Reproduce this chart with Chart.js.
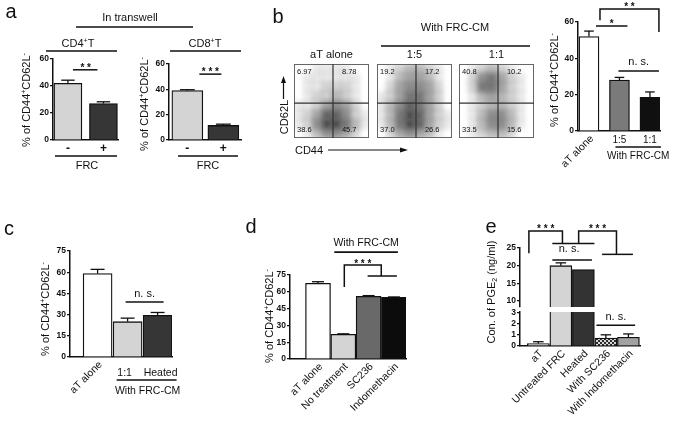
<!DOCTYPE html>
<html><head><meta charset="utf-8">
<script src="https://cdn.jsdelivr.net/npm/chart.js@4.4.1/dist/chart.umd.min.js"></script>
<style>
html,body{margin:0;padding:0;background:#fff;}
#wrap{position:relative;width:675px;height:422px;overflow:hidden;background:#fff;}
canvas{position:absolute;left:0;top:0;}
svg{position:absolute;left:0;top:0;pointer-events:none;}
</style></head><body>
<div id="wrap">
<canvas id="cA1" width="675" height="422"></canvas>
<canvas id="cA2" width="675" height="422"></canvas>
<canvas id="cF1" width="675" height="422"></canvas>
<canvas id="cF2" width="675" height="422"></canvas>
<canvas id="cF3" width="675" height="422"></canvas>
<canvas id="cB" width="675" height="422"></canvas>
<canvas id="cC" width="675" height="422"></canvas>
<canvas id="cD" width="675" height="422"></canvas>
<canvas id="cE1" width="675" height="422"></canvas>
<canvas id="cE2" width="675" height="422"></canvas>
<svg width="675" height="422" font-family="Liberation Sans, Arial, Helvetica, sans-serif" fill="#111">
  <g font-size="20" text-anchor="middle">
    <text x="11" y="18">a</text>
    <text x="278" y="23">b</text>
    <text x="9" y="235">c</text>
    <text x="251" y="233">d</text>
    <text x="491" y="233">e</text>
  </g>
  <g font-size="11" text-anchor="middle">
    <text x="130" y="21">In transwell</text>
    <text x="78" y="47">CD4<tspan font-size="7" dy="-4">+</tspan><tspan dy="4">T</tspan></text>
    <text x="205" y="47">CD8<tspan font-size="7" dy="-4">+</tspan><tspan dy="4">T</tspan></text>
    <text x="87" y="169">FRC</text>
    <text x="208" y="169">FRC</text>
    <text transform="translate(30,100) rotate(-90)">% of CD44<tspan font-size="7" dy="-4">+</tspan><tspan dy="4">CD62L</tspan><tspan font-size="7" dy="-4">-</tspan></text>
    <text transform="translate(148,104) rotate(-90)">% of CD44<tspan font-size="7" dy="-4">+</tspan><tspan dy="4">CD62L</tspan><tspan font-size="7" dy="-4">-</tspan></text>
    <text x="455" y="31">With FRC-CM</text>
    <text transform="translate(288,117) rotate(-90)">CD62L</text>
    <text x="309" y="154">CD44</text>
    <text transform="translate(558,80) rotate(-90)">% of CD44<tspan font-size="7" dy="-4">+</tspan><tspan dy="4">CD62L</tspan><tspan font-size="7" dy="-4">-</tspan></text>
    <text transform="translate(49,309) rotate(-90)">% of CD44<tspan font-size="7" dy="-4">+</tspan><tspan dy="4">CD62L</tspan><tspan font-size="7" dy="-4">-</tspan></text>
    <text transform="translate(273,316) rotate(-90)">% of CD44<tspan font-size="7" dy="-4">+</tspan><tspan dy="4">CD62L</tspan><tspan font-size="7" dy="-4">-</tspan></text>
    <text transform="translate(495,292) rotate(-90)">Con. of PGE<tspan font-size="7" dy="2">2</tspan><tspan dy="-2"> (ng/ml)</tspan></text>
  </g>
  <g stroke="#111" stroke-width="1.5" fill="none">
    <line x1="76" y1="27" x2="193" y2="27"/>
    <line x1="46" y1="51" x2="117" y2="51"/>
    <line x1="170" y1="51" x2="241" y2="51"/>
    <line x1="55" y1="156" x2="117" y2="156"/>
    <line x1="178" y1="156" x2="238" y2="156"/>
    <line x1="381" y1="46" x2="530" y2="46"/>
    <line x1="283.5" y1="99" x2="283.5" y2="82" stroke-width="1.2"/>
    <line x1="328" y1="150" x2="401" y2="150" stroke-width="1.2"/>
  </g>
  <polygon points="283.5,76 281,83 286,83" fill="#111"/>
  <polygon points="408,150 400,147.5 400,152.5" fill="#111"/>
</svg>
</div>
<script>
// ---------------- DATA ----------------
// Panel a
const aCats = ['-', '+'];
const aCD4 = [42, 27];
const aCD4Err = [2.3, 1.3];
const aCD8 = [39, 11.5];
const aCD8Err = [0.7, 1.0];
const aTicks = [0, 20, 40, 60];
// Panel b (flow plots)
const flowTitles = ['aT alone', '1:5', '1:1'];
// quadrant percentages: top-left, top-right, bottom-left, bottom-right
const flowQuadAlone = ['6.97', '8.78', '38.6', '45.7'];
const flowQuad15 = ['19.2', '17.2', '37.0', '26.6'];
const flowQuad11 = ['40.8', '10.2', '33.5', '15.6'];
const flowGate = [52, 47]; // CD44 gate, CD62L gate (% of axis)
// estimated dot density (rows top->bottom, columns CD44 low->high)
const densAlone = [
  [0,0,1,1,1,1,0,0],
  [0,1,1,1,1,1,1,0],
  [0,1,1,2,2,2,1,0],
  [0,1,2,2,3,2,1,0],
  [1,1,2,4,5,4,2,0],
  [1,2,4,7,7,5,2,1],
  [1,2,5,8,8,6,3,1],
  [0,1,3,5,5,4,2,0]
];
const dens15 = [
  [0,1,2,3,3,2,1,0],
  [0,1,3,4,4,3,1,0],
  [0,2,4,5,5,4,2,0],
  [1,2,4,6,6,4,2,0],
  [1,3,5,7,6,4,2,0],
  [1,3,6,8,7,4,2,1],
  [1,3,6,8,7,4,2,1],
  [0,2,4,5,4,3,1,0]
];
const dens11 = [
  [0,1,2,3,2,1,0,0],
  [0,2,5,6,4,2,1,0],
  [0,2,6,6,4,2,1,0],
  [0,1,3,4,3,2,1,0],
  [0,1,2,3,3,2,1,0],
  [0,1,3,5,5,3,1,0],
  [0,1,3,5,5,3,1,0],
  [0,1,2,3,3,2,0,0]
];
// Panel b bar chart
const bCats = ['aT alone', '1:5', '1:1'];
const bVals = [52, 28, 18.5];
const bErr = [3, 1.5, 3];
const bTicks = [0, 20, 40, 60];
// Panel c
const cCats = ['aT alone', '1:1', 'Heated'];
const cVals = [59, 25, 29.5];
const cErr = [3, 2.5, 2];
const cTicks = [0, 15, 30, 45, 60, 75];
// Panel d
const dCats = ['aT alone', 'No treatment', 'SC236', 'Indomethacin'];
const dVals = [67.5, 22, 56, 55];
const dErr = [1.5, 0.5, 0.6, 0.4];
const dTicks = [0, 15, 30, 45, 60, 75];
// Panel e
const eCats = ['aT', 'Untreated FRC', 'Heated', 'With SC236', 'With Indomethacin'];
const eVals = [0.22, 20, 18.9, 0.72, 0.8];
const eErr = [0.17, 0.8, 0, 0.3, 0.3];
const eTicksTop = [10, 15, 20, 25];
const eTicksBottom = [0, 1, 2, 3];

// ---------------- DRAWING ----------------
const W = 675, H = 422, YW = 22;
const FONT = "'Liberation Sans', Arial, Helvetica, sans-serif";
Chart.defaults.font.family = FONT;
Chart.defaults.color = '#111';

function txt(ctx, s, x, y, size, align, weight) {
  ctx.save();
  ctx.font = (weight || 'normal') + ' ' + size + 'px ' + FONT;
  ctx.fillStyle = '#111';
  ctx.textAlign = align || 'center';
  ctx.textBaseline = 'alphabetic';
  ctx.fillText(s, x, y);
  ctx.restore();
}
function rot(ctx, s, x, y, size) {
  ctx.save();
  ctx.translate(x, y);
  ctx.rotate(-Math.PI / 4);
  ctx.font = size + 'px ' + FONT;
  ctx.fillStyle = '#111';
  ctx.textAlign = 'right';
  ctx.textBaseline = 'middle';
  ctx.fillText(s, 0, 0);
  ctx.restore();
}
function path(ctx, pts, lw) {
  ctx.save();
  ctx.strokeStyle = '#111';
  ctx.lineWidth = lw || 1.5;
  ctx.beginPath();
  pts.forEach((p, i) => i ? ctx.lineTo(p[0], p[1]) : ctx.moveTo(p[0], p[1]));
  ctx.stroke();
  ctx.restore();
}

function barChart(id, o) {
  const data = o.vals.map((v, i) => ({ x: i, y: (o.yMin > 0 && v <= o.yMin) ? null : v }));
  return new Chart(document.getElementById(id), {
    type: 'bar',
    data: { datasets: [{ data, backgroundColor: o.colors, borderColor: '#111', borderWidth: 1.3, barThickness: o.barW, clip: 0 }] },
    options: {
      responsive: false, animation: false, events: [],
      layout: { padding: { left: o.area.l - YW, right: W - o.area.r, top: o.area.t, bottom: H - o.area.b } },
      plugins: { legend: { display: false }, tooltip: { enabled: false } },
      scales: {
        x: { type: 'linear', min: o.xMin, max: o.xMax, offset: false,
             ticks: { display: false }, grid: { display: false },
             border: { display: o.showX !== false, color: '#111', width: 1.5 },
             afterFit: s => { s.height = 0; } },
        y: { type: 'linear', min: o.yMin, max: o.yMax,
             afterBuildTicks: s => { s.ticks = o.ticks.map(v => ({ value: v })); },
             ticks: { color: '#111', font: { size: 8.5, weight: 'bold' }, padding: 1, autoSkip: false },
             grid: { drawOnChartArea: false, tickLength: 3, color: '#111', lineWidth: 1.2 },
             border: { color: '#111', width: 1.5 },
             afterFit: s => { s.width = YW; } }
      }
    },
    plugins: [{ id: 'ann' + id, afterDatasetsDraw(chart) {
      const ctx = chart.ctx, xs = chart.scales.x, ys = chart.scales.y;
      const X = i => xs.getPixelForValue(i), Y = v => ys.getPixelForValue(v);
      (o.err || []).forEach((e, i) => {
        const v = o.vals[i];
        if (!e || v <= o.yMin || v + e > o.yMax) return;
        const x = X(i), y0 = Y(v), y1 = Y(v + e), cw = o.barW * 0.24;
        path(ctx, [[x, y0], [x, y1]], 1.3);
        path(ctx, [[x - cw, y1], [x + cw, y1]], 1.3);
      });
      if (o.ann) o.ann(ctx, X, Y);
    } }]
  });
}

// Panel a, CD4
barChart('cA1', { vals: aCD4, err: aCD4Err, colors: ['#d4d4d4', '#363636'], ticks: aTicks,
  yMin: 0, yMax: 60, xMin: -0.42, xMax: 1.41, barW: 28, area: { l: 53, r: 118, t: 59, b: 140 },
  ann: (ctx, X, Y) => {
    const ly = Y(52);
    path(ctx, [[X(0) + 5, ly], [X(1) - 6, ly]]);
    txt(ctx, '* *', (X(0) + X(1)) / 2, ly + 1, 10, 'center', 'bold');
    aCats.forEach((s, i) => txt(ctx, s, X(i), Y(0) + 12, 12, 'center', 'bold'));
  } });
// Panel a, CD8
barChart('cA2', { vals: aCD8, err: aCD8Err, colors: ['#d4d4d4', '#363636'], ticks: aTicks,
  yMin: 0, yMax: 60, xMin: -0.51, xMax: 1.49, barW: 31, area: { l: 169, r: 241, t: 64, b: 140 },
  ann: (ctx, X, Y) => {
    const ly = Y(52);
    path(ctx, [[X(0) + 12, ly], [X(1) - 2, ly]]);
    txt(ctx, '* * *', (X(0) + 12 + X(1) - 2) / 2, ly + 1, 10, 'center', 'bold');
    aCats.forEach((s, i) => txt(ctx, s, X(i), Y(0) + 12, 12, 'center', 'bold'));
  } });

// Panel b bar chart
barChart('cB', { vals: bVals, err: bErr, colors: ['#ffffff', '#7a7a7a', '#101010'], ticks: bTicks,
  yMin: 0, yMax: 60, xMin: -0.36, xMax: 2.33, barW: 20, area: { l: 578, r: 660, t: 22, b: 131 },
  ann: (ctx, X, Y) => {
    const l1 = Y(57.8);
    path(ctx, [[X(0) + 7, l1], [X(1) + 8, l1]]);
    txt(ctx, '*', (X(0) + X(1)) / 2 + 7.5, l1 + 1, 10, 'center', 'bold');
    const bx0 = X(0) + 11, bx1 = X(2) + 9;
    path(ctx, [[bx0, Y(61)], [bx0, Y(67.2)], [bx1, Y(67.2)], [bx1, Y(54.5)]]);
    txt(ctx, '* *', (bx0 + bx1) / 2, Y(67.2) + 1, 10, 'center', 'bold');
    const ln = Y(33);
    path(ctx, [[X(1) - 1, ln], [X(2) + 9, ln]]);
    txt(ctx, 'n. s.', (X(1) + X(2)) / 2 + 4, ln - 6, 11);
    rot(ctx, bCats[0], X(0) + 3, Y(0) + 6, 10.5);
    txt(ctx, bCats[1], X(1), Y(0) + 12, 10);
    txt(ctx, bCats[2], X(2), Y(0) + 12, 10);
    path(ctx, [[X(1) - 4, Y(0) + 16], [X(2) + 11, Y(0) + 16]], 1.3);
    txt(ctx, 'With FRC-CM', (X(1) + X(2)) / 2 + 3.5, Y(0) + 28, 10);
  } });

// Panel c
barChart('cC', { vals: cVals, err: cErr, colors: ['#ffffff', '#d4d4d4', '#363636'], ticks: cTicks,
  yMin: 0, yMax: 75, xMin: -0.92, xMax: 2.48, barW: 29, area: { l: 70, r: 172, t: 251, b: 357 },
  ann: (ctx, X, Y) => {
    const ly = Y(38.9);
    path(ctx, [[X(1) - 2, ly], [X(2) + 6, ly]]);
    txt(ctx, 'n. s.', (X(1) + X(2)) / 2 + 2, ly - 5, 11);
    rot(ctx, cCats[0], X(0) + 3, Y(0) + 6, 10.5);
    txt(ctx, cCats[1], X(1) - 3, Y(0) + 19, 10.5);
    txt(ctx, cCats[2], X(2) + 3, Y(0) + 19, 10.5);
    path(ctx, [[X(1) - 11, Y(0) + 23], [X(2) + 19, Y(0) + 23]], 1.3);
    txt(ctx, 'With FRC-CM', (X(1) + X(2)) / 2 + 5, Y(0) + 37, 10.5);
  } });

// Panel d
barChart('cD', { vals: dVals, err: dErr, colors: ['#ffffff', '#d4d4d4', '#696969', '#0c0c0c'], ticks: dTicks,
  yMin: 0, yMax: 75, xMin: -1.107, xMax: 3.478, barW: 25, area: { l: 290, r: 406, t: 275, b: 359 },
  ann: (ctx, X, Y) => {
    const gy = Y(95.5);
    path(ctx, [[X(1) - 9, gy], [X(3) + 4, gy]], 1.8);
    txt(ctx, 'With FRC-CM', (X(1) - 9 + X(3) + 4) / 2, gy - 6, 10.5);
    const bx0 = X(1) + 1, bx1 = X(2.5);
    path(ctx, [[bx0, Y(64.3)], [bx0, Y(83.9)], [bx1, Y(83.9)], [bx1, Y(74.1)]]);
    path(ctx, [[X(2) - 1, Y(74.1)], [X(3) + 3, Y(74.1)]]);
    txt(ctx, '* * *', (bx0 + bx1) / 2, Y(83.9) + 1.5, 10, 'center', 'bold');
    dCats.forEach((s, i) => rot(ctx, s, X(i) + 3, Y(0) + 6, 10.5));
  } });

// Panel e, upper segment (broken axis)
barChart('cE1', { vals: eVals, err: eErr, colors: ['#c4c4c4', '#d4d4d4', '#333333', '#555555', '#a2a2a2'], ticks: eTicksTop,
  yMin: 8.3, yMax: 25, xMin: -0.815, xMax: 4.515, barW: 22, showX: false, area: { l: 520, r: 640, t: 248, b: 307 },
  ann: (ctx, X, Y) => {
    const lx = X(-0.42), rx = X(1.07);
    path(ctx, [[lx, Y(23.5)], [lx, Y(29.8)], [rx, Y(29.8)], [rx, Y(26.3)]]);
    txt(ctx, '* * *', (lx + rx) / 2, Y(29.8) + 1, 10, 'center', 'bold');
    path(ctx, [[X(0.62), Y(26.3)], [X(2.49), Y(26.3)]]);
    const lx2 = X(1.79), rx2 = X(3.47);
    path(ctx, [[lx2, Y(26.3)], [lx2, Y(29.8)], [rx2, Y(29.8)], [rx2, Y(23.2)]]);
    path(ctx, [[X(2.83), Y(23.2)], [X(4.2), Y(23.2)]]);
    txt(ctx, '* * *', (lx2 + rx2) / 2, Y(29.8) + 1, 10, 'center', 'bold');
    const ln = Y(21.6);
    path(ctx, [[X(0.62), ln], [X(2.38), ln]]);
    txt(ctx, 'n. s.', (X(0.62) + X(2.38)) / 2 - 3, ln - 8.5, 11);
  } });

// checker pattern for the SC236 bar
const pc = document.createElement('canvas'); pc.width = 4; pc.height = 4;
const pg = pc.getContext('2d');
pg.fillStyle = '#2a2a2a'; pg.fillRect(0, 0, 4, 4);
pg.fillStyle = '#d8d8d8'; pg.fillRect(0, 0, 2, 2); pg.fillRect(2, 2, 2, 2);
const checker = document.getElementById('cE2').getContext('2d').createPattern(pc, 'repeat');

// Panel e, lower segment
barChart('cE2', { vals: eVals, err: eErr, colors: ['#c4c4c4', '#d4d4d4', '#333333', checker, '#a2a2a2'], ticks: eTicksBottom,
  yMin: 0, yMax: 3.1, xMin: -0.815, xMax: 4.515, barW: 22, area: { l: 520, r: 640, t: 312, b: 346 },
  ann: (ctx, X, Y) => {
    const ln = Y(1.9);
    path(ctx, [[X(2.58), ln], [X(4.3), ln]]);
    txt(ctx, 'n. s.', (X(2.58) + X(4.3)) / 2, ln - 5, 11);
    eCats.forEach((s, i) => rot(ctx, s, X(i) + 3, Y(0) + 6, 10.5));
  } });

// Flow cytometry plots
const flowBoxes = [{ l: 294, r: 369, t: 64, b: 138 }, { l: 377, r: 452, t: 64, b: 138 }, { l: 459, r: 534, t: 64, b: 138 }];
const flowDens = [densAlone, dens15, dens11];
const flowQuads = [flowQuadAlone, flowQuad15, flowQuad11];
function flowChart(id, k) {
  const dens = flowDens[k], rows = dens.length, cols = dens[0].length;
  const pts = [], bg = [];
  dens.forEach((row, r) => row.forEach((d, c) => {
    pts.push({ x: (c + 0.5) * 100 / cols, y: (rows - r - 0.5) * 100 / rows });
    bg.push('rgba(25,25,25,' + (d * 0.095).toFixed(3) + ')');
  }));
  const b = flowBoxes[k];
  const cell = (b.r - b.l) / cols;
  new Chart(document.getElementById(id), {
    type: 'scatter',
    data: { datasets: [{ data: pts, backgroundColor: bg, pointStyle: 'rect', pointRadius: cell * 0.8, borderWidth: 0, clip: 0 }] },
    options: {
      responsive: false, animation: false, events: [],
      layout: { padding: { left: b.l, right: W - b.r, top: b.t, bottom: H - b.b } },
      plugins: { legend: { display: false }, tooltip: { enabled: false } },
      scales: { x: { display: false, min: 0, max: 100 }, y: { display: false, min: 0, max: 100 } }
    },
    plugins: [{ id: 'flow' + k,
      beforeDatasetDraw(chart) { chart.ctx.save(); chart.ctx.filter = 'blur(2.5px)'; },
      afterDatasetDraw(chart) { chart.ctx.restore(); },
      afterDraw(chart) {
        const ctx = chart.ctx, a = chart.chartArea, xs = chart.scales.x, ys = chart.scales.y;
        const gx = xs.getPixelForValue(flowGate[0]), gy = ys.getPixelForValue(flowGate[1]);
        ctx.save();
        ctx.strokeStyle = '#666'; ctx.lineWidth = 1;
        ctx.strokeRect(a.left + 0.5, a.top + 0.5, a.right - a.left - 1, a.bottom - a.top - 1);
        ctx.strokeStyle = '#333'; ctx.lineWidth = 1.2;
        ctx.beginPath(); ctx.moveTo(gx, a.top); ctx.lineTo(gx, a.bottom); ctx.moveTo(a.left, gy); ctx.lineTo(a.right, gy); ctx.stroke();
        ctx.restore();
        const q = flowQuads[k];
        const rx = gx + (a.right - gx) * 0.45;
        txt(ctx, q[0], a.left + 3, a.top + 10, 7.5, 'left');
        txt(ctx, q[1], rx, a.top + 10, 7.5, 'center');
        txt(ctx, q[2], a.left + 3, a.bottom - 6, 7.5, 'left');
        txt(ctx, q[3], rx, a.bottom - 6, 7.5, 'center');
        txt(ctx, flowTitles[k], (a.left + a.right) / 2, a.top - 6, 11);
      } }]
  });
}
flowChart('cF1', 0);
flowChart('cF2', 1);
flowChart('cF3', 2);
</script>
</body></html>
